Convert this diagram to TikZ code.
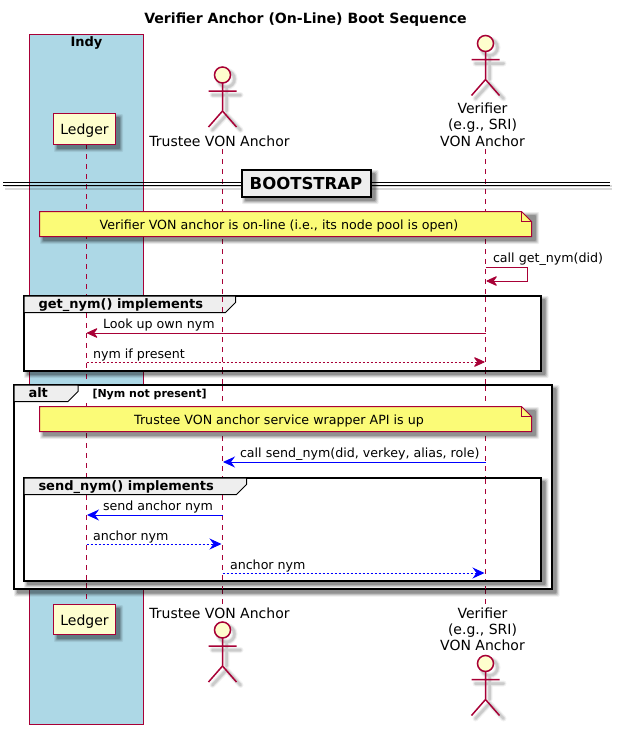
\documentclass[tikz,border=0pt]{standalone}
\usepackage{fontspec}
\setmainfont{DejaVu Sans}
\usetikzlibrary{arrows.meta}
\definecolor{pumlred}{HTML}{A80036}
\definecolor{pumlfill}{HTML}{FEFECE}
\definecolor{pumlblue}{HTML}{ADD8E6}
\definecolor{pumlnote}{HTML}{FBFB77}
\definecolor{pumltab}{HTML}{EEEEEE}
\newcommand{\softshadow}[4]{%
  \foreach \w/\o in {7/0.07,5/0.10,3/0.14,1/0.2}{%
    \fill[black,opacity=\o,rounded corners=1pt]
      ({#1+4-\w/2},{#2+4-\w/2}) rectangle ({#3+4+\w/2},{#4+4+\w/2});}}
\newcommand{\actorfig}[3]{% name, x, head-centre y
  \begin{scope}[xshift=#2pt,yshift=-#3pt]
    \foreach \w/\o in {6/0.05,4/0.07,2.5/0.09}{%
      \draw[line width=\w pt,black,opacity=\o,line cap=round]
        (4,4) circle (8)
        (4,12) -- (4,36) (-10,20) -- (18,20) (-10,55) -- (4,40) -- (18,55);}
    \draw[actorline,fill=pumlfill] (0,0) circle (8);
    \draw[actorline] (0,8) -- (0,36) (-14,16) -- (14,16) (-14,52) -- (0,36) -- (14,52);
  \end{scope}}
\tikzset{
  x=1pt,y=-1pt,
  actorline/.style={draw=pumlred,line width=1.5pt},
  lifeline/.style={draw=pumlred,line width=1pt,dash pattern=on 5pt off 5pt},
  msgred/.style={draw=pumlred,line width=1pt,-{Stealth[length=12pt,width=11pt,inset=4pt,round=false]}},
  msgblue/.style={draw=blue,line width=1pt,-{Stealth[length=12pt,width=11pt,inset=4pt]}},
  dotted line/.style={dash pattern=on 2pt off 2pt},
  lbl/.style={inner sep=0pt,outer sep=0pt,anchor=base west,font=\fontsize{12.65}{13}\selectfont,text=black},
  clbl/.style={lbl,anchor=base},
  actlbl/.style={clbl,font=\fontsize{14}{14}\selectfont},
  partbox/.style={draw=pumlred,line width=1.5pt,fill=pumlfill},
  notebox/.style={draw=pumlred,line width=1pt,fill=pumlnote},
  framebox/.style={draw=black,line width=2pt,fill=white},
  tabbox/.style={draw=black,line width=1pt,fill=pumltab},
  framelbl/.style={lbl,font=\fontsize{13}{13}\selectfont\bfseries},
}
\begin{document}
\begin{tikzpicture}
\useasboundingbox (0,0) rectangle (620,734);
\fill[white] (0,0) rectangle (620,734);
% title
\node[clbl,font=\fontsize{14.1}{14}\selectfont\bfseries] (title) at (305.5,23) {Verifier Anchor (On-Line) Boot Sequence};
% Indy box
\draw[draw=pumlred,line width=1pt,fill=pumlblue] (29.5,34.5) rectangle (143.5,724.5);
\node[clbl,font=\fontsize{13}{13}\selectfont\bfseries] (indy) at (86.5,46) {Indy};
% lifelines
\coordinate (ledgerT) at (86.5,144); \coordinate (ledgerB) at (86.5,604);
\coordinate (trustT) at (222.5,149); \coordinate (trustB) at (222.5,604);
\coordinate (verT) at (485.5,149); \coordinate (verB) at (485.5,604);
\draw[lifeline] (ledgerT) -- (ledgerB);
\draw[lifeline] (trustT) -- (trustB);
\draw[lifeline] (verT) -- (verB);
% participants
\softshadow{53.5}{113.5}{115.5}{144.5}
\draw[partbox] (53.5,113.5) rectangle (115.5,144.5);
\node[actlbl] (ledgerTop) at (84.5,134) {Ledger};
\softshadow{53.5}{604.5}{115.5}{634.5}
\draw[partbox] (53.5,604.5) rectangle (115.5,634.5);
\node[actlbl] (ledgerBot) at (84.5,625) {Ledger};
\actorfig{a}{222.5}{75}
\node[actlbl] (trustTop) at (219.5,146) {Trustee VON Anchor};
\actorfig{b}{485.5}{43.5}
\node[actlbl] (verTop1) at (482.5,113) {Verifier};
\node[actlbl] (verTop2) at (482.5,129.5) {(e.g., SRI)};
\node[actlbl] (verTop3) at (482.5,146) {VON Anchor};
\actorfig{c}{222.5}{630}
\node[actlbl] (trustBot) at (219.5,618) {Trustee VON Anchor};
\actorfig{d}{485.5}{663.5}
\node[actlbl] (verBot1) at (482.5,618) {Verifier};
\node[actlbl] (verBot2) at (482.5,634) {(e.g., SRI)};
\node[actlbl] (verBot3) at (482.5,650) {VON Anchor};
% divider
\foreach \yy in {183,186}{\fill[black,opacity=0.15] (5,\yy+2) rectangle (612,\yy+4);}
\draw[black,line width=1pt] (3,182.5) -- (609.5,182.5) (3,185.5) -- (609.5,185.5);
\softshadow{241.5}{169.5}{371}{196.5}
\draw[black,line width=2pt,fill=pumltab] (241.5,169.5) rectangle (371,196.5);
\node[clbl,font=\fontsize{16.5}{16}\selectfont\bfseries] (boot) at (306,189) {BOOTSTRAP};
% note 1
\softshadow{39.5}{211.5}{531.5}{236.5}
\draw[notebox] (39.5,211.5) -- (521.5,211.5) -- (531.5,221.5) -- (531.5,236.5) -- (39.5,236.5) -- cycle;
\draw[draw=pumlred,line width=1pt] (521.5,211.5) -- (521.5,221.5) -- (531.5,221.5);
\node[clbl] (n1) at (279,229) {Verifier VON anchor is on-line (i.e., its node pool is open)};
% self call
\node[lbl] (m1) at (493,262) {call get\_nym(did)};
\coordinate (s1) at (485.5,267); \coordinate (s2) at (527.5,267);
\coordinate (s3) at (527.5,281); \coordinate (s4) at (486.5,281);
\draw[msgred] (s1) -- (s2) -- (s3) -- (s4);
% frame get_nym
\softshadow{23.5}{295.5}{541}{370.5}
\draw[framebox] (23.5,295.5) rectangle (541,370.5);
\draw[tabbox] (24,296) -- (235.5,296) -- (235.5,302.5) -- (225.5,312.5) -- (24,312.5) -- cycle;
\node[framelbl] (f1) at (38.5,308) {get\_nym() implements};
\draw[lifeline] (86.5,313) -- (86.5,370);
\draw[lifeline] (222.5,297) -- (222.5,370);
\draw[lifeline] (485.5,297) -- (485.5,370);
\node[lbl] (m2) at (103,328) {Look up own nym};
\coordinate (lv) at (485.5,333); \coordinate (ll) at (87,333);
\draw[msgred] (lv) -- (ll);
\node[lbl] (m3) at (93,358) {nym if present};
\coordinate (p1) at (86.5,362); \coordinate (p2) at (484.5,362);
\draw[msgred,dotted line] (p1) -- (p2);
% alt frame
\softshadow{13.5}{384.5}{552}{589}
\draw[framebox] (13.5,384.5) rectangle (552,589);
\draw[tabbox] (14,385) -- (78,385) -- (78,391.5) -- (68,401.5) -- (14,401.5) -- cycle;
\node[framelbl] (f2) at (28.5,397.5) {alt};
\node[lbl,font=\fontsize{11}{11}\selectfont\bfseries] (g) at (92.5,397) {[Nym not present]};
\draw[lifeline] (86.5,403) -- (86.5,589);
\draw[lifeline] (222.5,386) -- (222.5,589);
\draw[lifeline] (485.5,386) -- (485.5,589);
% note 2
\softshadow{39.5}{406.5}{531.5}{431.5}
\draw[notebox] (39.5,406.5) -- (521.5,406.5) -- (531.5,416.5) -- (531.5,431.5) -- (39.5,431.5) -- cycle;
\draw[draw=pumlred,line width=1pt] (521.5,406.5) -- (521.5,416.5) -- (531.5,416.5);
\node[clbl] (n2) at (279,424) {Trustee VON anchor service wrapper API is up};
% call send_nym
\node[lbl] (m4) at (240,457) {call send\_nym(did, verkey, alias, role)};
\coordinate (c1) at (485.5,462); \coordinate (c2) at (223,462);
\draw[msgblue] (c1) -- (c2);
% frame send_nym
\softshadow{23.5}{477.5}{541}{580.5}
\draw[framebox] (23.5,477.5) rectangle (541,580.5);
\draw[tabbox] (24,478) -- (246.5,478) -- (246.5,484.5) -- (236.5,494.5) -- (24,494.5) -- cycle;
\node[framelbl] (f3) at (38.5,490) {send\_nym() implements};
\draw[lifeline] (86.5,495) -- (86.5,580);
\draw[lifeline] (222.5,495) -- (222.5,580);
\draw[lifeline] (485.5,479) -- (485.5,580);
\node[lbl] (m5) at (103,510) {send anchor nym};
\coordinate (a1) at (222.5,515); \coordinate (a2) at (87,515);
\draw[msgblue] (a1) -- (a2);
\node[lbl] (m6) at (93,540) {anchor nym};
\coordinate (b1) at (86.5,544); \coordinate (b2) at (221.5,544);
\draw[msgblue,dotted line] (b1) -- (b2);
\node[lbl] (m7) at (230,569) {anchor nym};
\coordinate (d1) at (222.5,573); \coordinate (d2) at (484.5,573);
\draw[msgblue,dotted line] (d1) -- (d2);
\end{tikzpicture}
\end{document}
